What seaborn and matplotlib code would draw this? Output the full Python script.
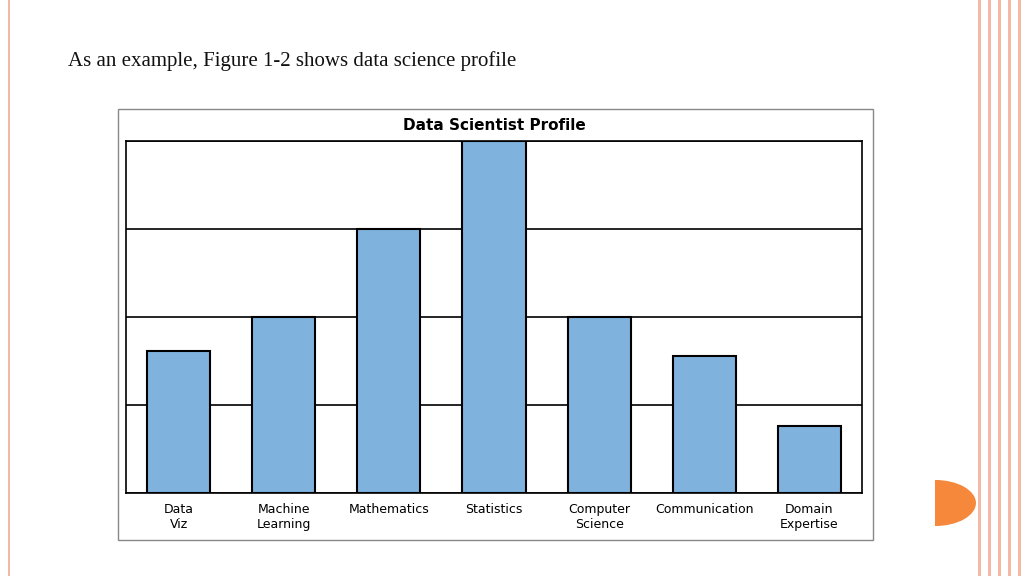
import matplotlib
matplotlib.use("Agg")
import matplotlib.pyplot as plt
import matplotlib.patches as mpatches
import seaborn as sns
import pandas as pd

# data
categories = ["Data\nViz", "Machine\nLearning", "Mathematics", "Statistics",
              "Computer\nScience", "Communication", "Domain\nExpertise"]
scores = [1.61, 2.0, 3.0, 4.0, 2.0, 1.56, 0.76]
slide_text = "As an example, Figure 1-2 shows data science profile"
chart_title = "Data Scientist Profile"

df = pd.DataFrame({"skill": categories, "score": scores})

fig = plt.figure(figsize=(10.24, 5.76), dpi=100)
fig.patch.set_facecolor("white")

# slide decoration
fig.add_artist(mpatches.Rectangle((8 / 1024, 0), 2 / 1024, 1, transform=fig.transFigure,
                                  color="#f4b9a5", lw=0))
for x in [978, 988, 998, 1008, 1018]:
    fig.add_artist(mpatches.Rectangle((x / 1024, 0), 3 / 1024, 1, transform=fig.transFigure,
                                      color="#f4b9a5", lw=0))
fig.add_artist(mpatches.Wedge((935 / 1024, 1 - 503 / 576), 0.040, -90, 90,
                              transform=fig.transFigure, color="#f5883a", lw=0))
fig.text(68 / 1024, 1 - 61 / 576, slide_text, family="Liberation Serif", fontsize=15,
         va="center", ha="left", color="#111111")

# chart frame
fig.add_artist(mpatches.Rectangle((118 / 1024, 1 - 540 / 576), 755 / 1024, 431 / 576,
                                  transform=fig.transFigure, fill=False, ec="#888888", lw=1))
fig.text(494 / 1024, 1 - 125 / 576, chart_title, fontsize=11, weight="bold",
         ha="center", va="center")

ax = fig.add_axes([126 / 1024, 83 / 576, 736 / 1024, 352 / 576])
sns.barplot(data=df, x="skill", y="score", ax=ax, color="#7fb3de", width=0.6,
            edgecolor="black", linewidth=1.5, saturation=1, zorder=3)
ax.set_xlim(-0.5, 6.5)
ax.set_ylim(0, 4)
ax.set_yticks([0, 1, 2, 3, 4])
ax.yaxis.grid(True, color="black", lw=1.2, zorder=0)
ax.set_axisbelow(True)
ax.tick_params(left=False, labelleft=False, bottom=False, labelsize=9, pad=4)
ax.set_xlabel("")
ax.set_ylabel("")
for s in ax.spines.values():
    s.set_color("black")
    s.set_linewidth(1.2)

fig.savefig("out.png", dpi=100)
